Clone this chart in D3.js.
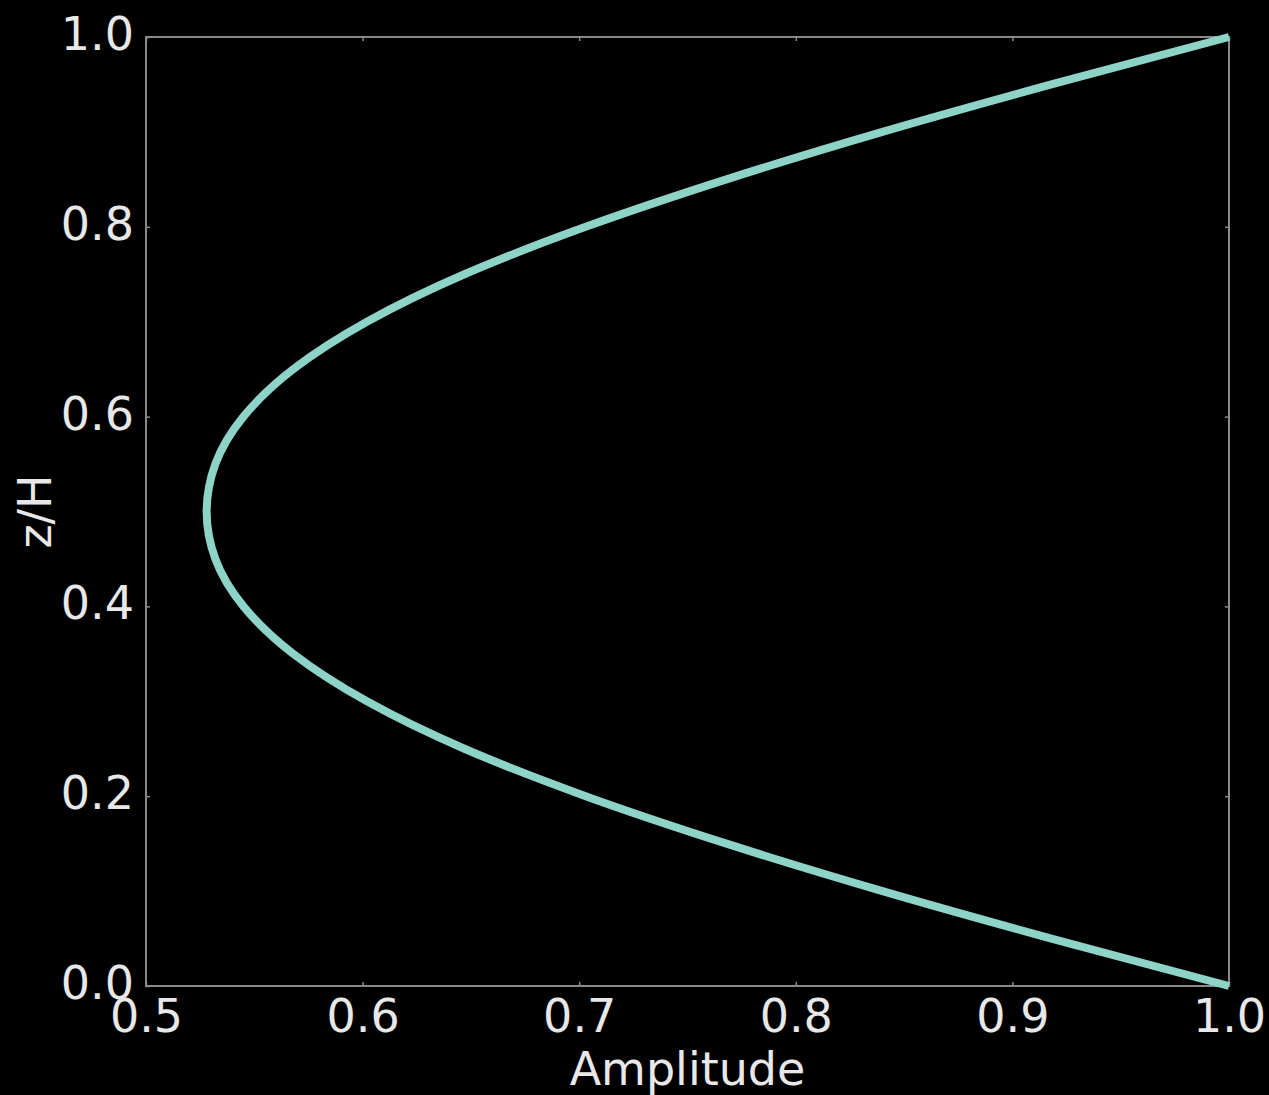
<!DOCTYPE html>
<html>
<head>
<meta charset="utf-8">
<script src="https://cdn.jsdelivr.net/npm/d3@7"></script>
<style>
  html, body { margin: 0; padding: 0; background: #000; }
  svg { display: block; }
  text { font-family: "DejaVu Sans", sans-serif; fill: #e8e8e8; }
</style>
</head>
<body>
<script>
// Vertical amplitude profile: height z/H against amplitude
const zValues = [0.00, 0.05, 0.10, 0.15, 0.20, 0.25, 0.30, 0.35, 0.40, 0.45, 0.50,
                 0.55, 0.60, 0.65, 0.70, 0.75, 0.80, 0.85, 0.90, 0.95, 1.00];
const amplitude = [1.000, 0.918, 0.840, 0.768, 0.703, 0.647, 0.602, 0.568, 0.545, 0.532, 0.528,
                   0.532, 0.545, 0.568, 0.602, 0.647, 0.703, 0.768, 0.840, 0.918, 1.000];
const xTicks = [0.5, 0.6, 0.7, 0.8, 0.9, 1.0];
const yTicks = [0.0, 0.2, 0.4, 0.6, 0.8, 1.0];

const W = 1269, H = 1095;
const margin = { left: 146, right: 40, top: 37, bottom: 109 };

const svg = d3.select("body").append("svg")
  .attr("width", W).attr("height", H);
svg.append("rect").attr("width", W).attr("height", H).attr("fill", "#000");

const x = d3.scaleLinear().domain([0.5, 1.0]).range([margin.left, W - margin.right]);
const y = d3.scaleLinear().domain([0.0, 1.0]).range([H - margin.bottom, margin.top]);

const spineColor = "#8a8a8a";
const tickLen = 4;

// Frame
svg.append("rect")
  .attr("x", x(0.5)).attr("y", y(1))
  .attr("width", x(1) - x(0.5)).attr("height", y(0) - y(1))
  .attr("fill", "none").attr("stroke", spineColor).attr("stroke-width", 2);

// Axes with small inward ticks on all four sides
const fmt = d3.format(".1f");
const gBottom = svg.append("g").attr("transform", `translate(0,${y(0)})`)
  .call(d3.axisBottom(x).tickValues(xTicks).tickFormat(fmt).tickSize(-tickLen).tickPadding(12));
const gTop = svg.append("g").attr("transform", `translate(0,${y(1)})`)
  .call(d3.axisTop(x).tickValues(xTicks).tickFormat("").tickSize(-tickLen));
const gLeft = svg.append("g").attr("transform", `translate(${x(0.5)},0)`)
  .call(d3.axisLeft(y).tickValues(yTicks).tickFormat(fmt).tickSize(-tickLen).tickPadding(12));
const gRight = svg.append("g").attr("transform", `translate(${x(1)},0)`)
  .call(d3.axisRight(y).tickValues(yTicks).tickFormat("").tickSize(-tickLen));

[gBottom, gTop, gLeft, gRight].forEach(g => {
  g.select(".domain").remove();
  g.selectAll(".tick line").attr("stroke", spineColor).attr("stroke-width", 1.5);
  g.selectAll("text").attr("font-size", 46).attr("fill", "#e8e8e8")
    .attr("font-family", "DejaVu Sans, sans-serif");
});
gBottom.selectAll("text").attr("dy", "0.74em");
gLeft.selectAll("text").attr("dy", "0.27em");

// Profile curve (x as a function of height)
const line = d3.line()
  .x((d, i) => x(amplitude[i]))
  .y((d, i) => y(zValues[i]))
  .curve(d3.curveMonotoneY);

svg.append("path")
  .datum(zValues)
  .attr("d", line)
  .attr("fill", "none")
  .attr("stroke", "#8dd3c7")
  .attr("stroke-width", 8)
  .attr("stroke-linejoin", "round");

// Axis titles
svg.append("text")
  .attr("x", (x(0.5) + x(1)) / 2)
  .attr("y", 1085)
  .attr("text-anchor", "middle")
  .attr("font-size", 46)
  .text("Amplitude");

svg.append("text")
  .attr("transform", `translate(51,${(y(0) + y(1)) / 2}) rotate(-90)`)
  .attr("text-anchor", "middle")
  .attr("font-size", 46)
  .text("z/H");
</script>
</body>
</html>
